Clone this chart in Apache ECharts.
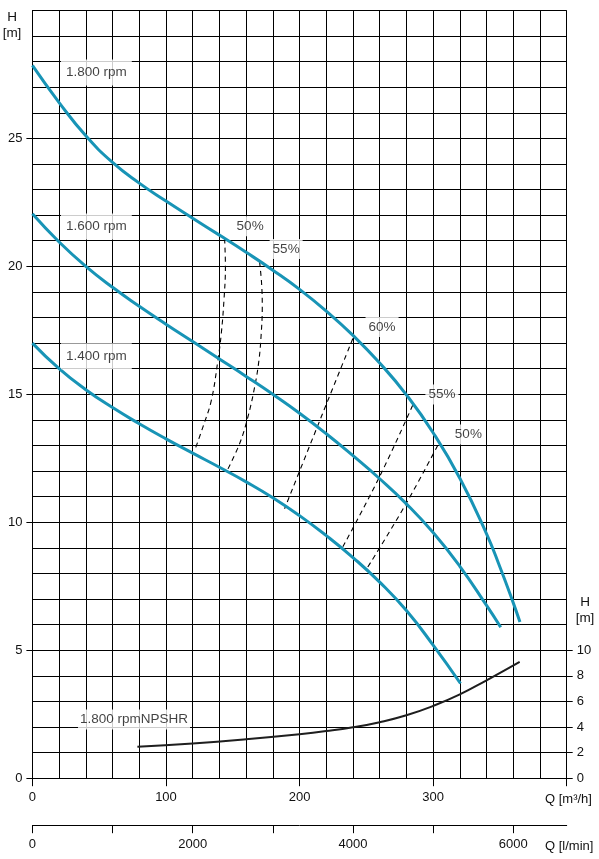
<!DOCTYPE html>
<html><head><meta charset="utf-8">
<script src="https://cdn.jsdelivr.net/npm/echarts@6/dist/echarts.min.js"></script>
<style>html,body{margin:0;padding:0;background:#fff}#c{width:599px;height:859px}</style>
</head><body><div id="c"></div>
<script>
// ---- axis ticks / labels ----
const qTicks = [0, 100, 200, 300, 400];
const qLabels = [0, 100, 200, 300];
const hTicks = [0, 5, 10, 15, 20, 25];
const lminTicks = [0, 1000, 2000, 3000, 4000, 5000, 6000];
const lminLabels = [0, 2000, 4000, 6000];
const npshTicks = [0, 2, 4, 6, 8, 10];

// ---- pump curves: [Q m3/h, H m] ----
const rpmNames = ['1.800 rpm', '1.600 rpm', '1.400 rpm'];
const curve1800 = [[0,27.85],[20,26.4],[40,25.1],[60,24.06],[80,23.25],[100,22.55],[120,21.88],[140,21.22],[160,20.55],[180,19.85],[200,19.1],[220,18.25],[240,17.3],[260,16.22],[280,14.98],[300,13.5],[320,11.72],[340,9.55],[350,8.25],[360,6.85],[365,6.1]];
const curve1600 = [[0,22.05],[20,20.95],[40,20.0],[60,19.18],[80,18.44],[100,17.74],[120,17.06],[140,16.38],[160,15.7],[180,15.0],[200,14.26],[220,13.46],[240,12.6],[260,11.7],[280,10.72],[300,9.6],[320,8.28],[340,6.75],[350.6,5.9]];
const curve1400 = [[0,17.0],[20,16.0],[40,15.18],[60,14.48],[80,13.85],[100,13.26],[120,12.7],[140,12.15],[160,11.58],[180,10.96],[200,10.26],[220,9.48],[240,8.62],[260,7.66],[280,6.55],[300,5.2],[320.5,3.7]];

// ---- efficiency lines: [Q, H] ----
const effNames = ['50%', '55%', '60%', '55%', '50%'];
const eff50a = [[143.9,21.08],[144.5,19.97],[143.4,18.67],[141.4,17.37],[138.9,16.33],[134.0,14.77],[127.7,13.73],[121.5,12.81]];
const eff55a = [[170.1,20.17],[171.6,19.32],[172.1,18.41],[171.3,17.37],[169.6,16.33],[166.4,15.29],[161.3,14.11],[155.1,13.07],[145.2,11.96]];
const eff60 = [[239.9,17.18],[216.2,14.11],[188.8,10.53]];
const eff55b = [[284.7,14.57],[259.8,11.77],[232.4,9.04]];
const eff50b = [[303.4,13.0],[279.8,10.73],[249.9,8.15]];

// ---- NPSHR: [Q m3/h, NPSH m] ----
const npshrName = '1.800 rpmNPSHR';
const npshr1800 = [[78.6,2.45],[120,2.72],[160,3.05],[200,3.44],[220,3.68],[240,3.98],[260,4.38],[280,4.92],[300,5.65],[320,6.55],[340,7.65],[364.8,9.09]];

// ---- layout / style (not data) ----
const FONT = 'Liberation Sans, Arial, sans-serif';
const BLUE = '#1894b6';
const TXT = '#111';
const rpmOffsets = [[28.6, 7], [28.6, 12.6], [28.6, 13.2]];
const effOffsets = [[9, -12.5], [10, -13], [12.7, -11.5], [12.7, -10.8], [14.2, -11]];

const G = {left: 32.4, right: 32.3, top: 10.4, bottom: 80.8};
const plotH = 859 - G.top - G.bottom;

const curves = [curve1800, curve1600, curve1400];
const effs = [eff50a, eff55a, eff60, eff55b, eff50b];

const lineBlack = {color: '#000', width: 1};
const series = [];
curves.forEach((c) => series.push({
  type: 'line', xAxisIndex: 0, yAxisIndex: 0, data: c, smooth: 0.5,
  symbol: 'none', lineStyle: {color: BLUE, width: 3}, z: 4, silent: true
}));
effs.forEach((c) => series.push({
  type: 'line', xAxisIndex: 0, yAxisIndex: 0, data: c, smooth: 0.4,
  symbol: 'none', lineStyle: {color: '#000', width: 1.1, type: [5, 4]}, z: 3, silent: true
}));
series.push({
  type: 'line', xAxisIndex: 2, yAxisIndex: 1, data: npshr1800, smooth: 0.5,
  symbol: 'none', lineStyle: {color: '#1e1e1e', width: 2}, z: 3, silent: true
});
// labels anchored at first points of curves
series.push({
  type: 'scatter', xAxisIndex: 0, yAxisIndex: 0, symbolSize: 0, silent: true, z: 6,
  data: curves.map((c, i) => ({
    value: c[0],
    label: {show: true, position: 'inside', align: 'left', verticalAlign: 'middle',
      offset: rpmOffsets[i], formatter: rpmNames[i], fontSize: 13.5, fontFamily: FONT,
      color: TXT, backgroundColor: '#fff', padding: [6, 5, 6, 5]}
  }))
});
series.push({
  type: 'scatter', xAxisIndex: 0, yAxisIndex: 0, symbolSize: 0, silent: true, z: 6,
  data: effs.map((c, i) => ({
    value: c[0],
    label: {show: true, position: 'inside', align: 'left', verticalAlign: 'middle',
      offset: effOffsets[i], formatter: effNames[i], fontSize: 13.5, fontFamily: FONT,
      color: TXT, backgroundColor: '#fff', padding: [3, 3, 3, 3]}
  }))
});
series.push({
  type: 'scatter', xAxisIndex: 2, yAxisIndex: 1, symbolSize: 0, silent: true, z: 6,
  data: [{
    value: npshr1800[0],
    label: {show: true, position: 'inside', align: 'left', verticalAlign: 'middle',
      offset: [-59.4, -27.3], formatter: npshrName, fontSize: 13.5, fontFamily: FONT,
      color: TXT, backgroundColor: '#fff', padding: [3, 2, 3, 2]}
  }]
});

const labelStyle = {fontSize: 13, fontFamily: FONT, color: TXT, formatter: (v) => String(v)};
const hidden = {axisLine: {show: false}, axisTick: {show: false}, axisLabel: {show: false}};

const option = {
  animation: false,
  backgroundColor: '#fff',
  grid: [
    {left: G.left, right: G.right, top: G.top, bottom: G.bottom},
    {left: G.left, right: G.right, bottom: G.bottom, height: plotH / 6}
  ],
  xAxis: [
    {type: 'value', gridIndex: 0, position: 'bottom', min: 0, max: 400, interval: 100,
      axisLine: {show: true, onZero: false, lineStyle: lineBlack},
      axisTick: {show: true, customValues: qTicks, length: 8, lineStyle: lineBlack},
      axisLabel: Object.assign({customValues: qLabels, margin: 13}, labelStyle),
      splitLine: {show: false}},
    {type: 'value', gridIndex: 0, position: 'bottom', offset: 47, min: 0, max: 400 * 1000 / 60, interval: 1000,
      axisLine: {show: true, onZero: false, lineStyle: lineBlack},
      axisTick: {show: true, customValues: lminTicks, length: 8, lineStyle: lineBlack},
      axisLabel: Object.assign({customValues: lminLabels, margin: 13}, labelStyle),
      splitLine: {show: false}},
    {type: 'value', gridIndex: 1, min: 0, max: 400, show: false},
    Object.assign({type: 'value', gridIndex: 0, position: 'top', min: 0, max: 400, interval: 20,
      splitLine: {show: true, lineStyle: lineBlack}}, hidden)
  ],
  yAxis: [
    {type: 'value', gridIndex: 0, position: 'left', min: 0, max: 30, interval: 5,
      axisLine: {show: true, onZero: false, lineStyle: lineBlack},
      axisTick: {show: true, customValues: hTicks, length: 6, lineStyle: lineBlack},
      axisLabel: Object.assign({customValues: hTicks, margin: 10}, labelStyle),
      splitLine: {show: false}},
    {type: 'value', gridIndex: 1, position: 'right', min: 0, max: 10, interval: 2,
      axisLine: {show: true, onZero: false, lineStyle: lineBlack},
      axisTick: {show: true, customValues: npshTicks, length: 6, lineStyle: lineBlack},
      axisLabel: Object.assign({customValues: npshTicks, margin: 10}, labelStyle),
      splitLine: {show: false}},
    Object.assign({type: 'value', gridIndex: 0, position: 'right', min: 0, max: 30, interval: 1,
      splitLine: {show: true, lineStyle: lineBlack}}, hidden)
  ],
  graphic: [
    {type: 'text', x: 12, y: 9.5, silent: true, style: {text: 'H\n[m]', font: '13.5px ' + FONT, fill: TXT, align: 'center', textAlign: 'center', verticalAlign: 'top', textVerticalAlign: 'top', lineHeight: 16}},
    {type: 'text', x: 585, y: 594.5, silent: true, style: {text: 'H\n[m]', font: '13.5px ' + FONT, fill: TXT, align: 'center', textAlign: 'center', verticalAlign: 'top', textVerticalAlign: 'top', lineHeight: 16}},
    {type: 'text', x: 545, y: 799, silent: true, style: {text: 'Q [m³/h]', font: '13px ' + FONT, fill: TXT, align: 'left', textAlign: 'left', verticalAlign: 'middle', textVerticalAlign: 'middle'}},
    {type: 'text', x: 545, y: 846, silent: true, style: {text: 'Q [l/min]', font: '13px ' + FONT, fill: TXT, align: 'left', textAlign: 'left', verticalAlign: 'middle', textVerticalAlign: 'middle'}}
  ],
  series: series
};

const chart = echarts.init(document.getElementById('c'), null, {renderer: 'canvas'});
chart.setOption(option);
</script>
</body></html>
